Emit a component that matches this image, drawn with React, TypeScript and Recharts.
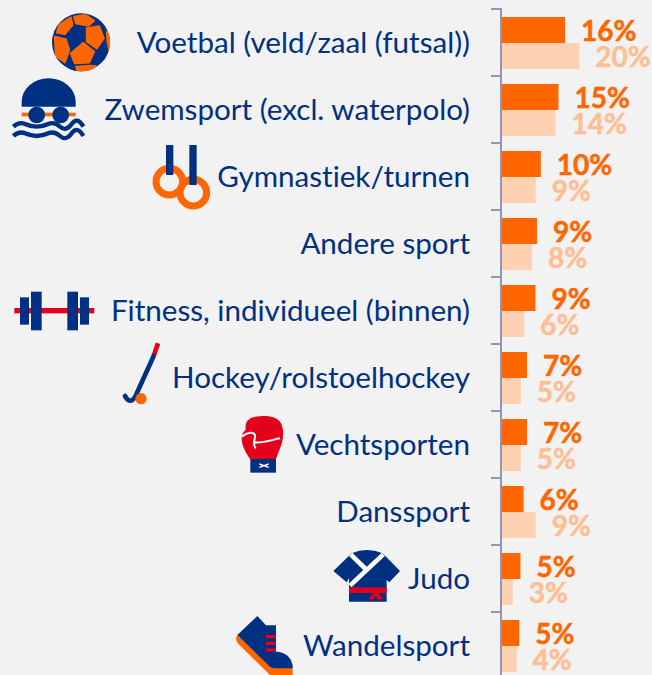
import { Bar, BarChart, LabelList, XAxis, YAxis } from "recharts";

const categories = [
  "Voetbal (veld/zaal (futsal))",
  "Zwemsport (excl. waterpolo)",
  "Gymnastiek/turnen",
  "Andere sport",
  "Fitness, individueel (binnen)",
  "Hockey/rolstoelhockey",
  "Vechtsporten",
  "Danssport",
  "Judo",
  "Wandelsport",
];
const currentShare = [16.4, 14.7, 10.1, 9.1, 8.7, 6.5, 6.5, 5.6, 4.8, 4.5];
const previousShare = [20.1, 13.9, 8.8, 7.8, 5.8, 4.9, 4.9, 8.8, 2.8, 3.8];

const BLUE = "#003082";
const ORANGE = "#FF6600";
const RED = "#E2001A";
const PALE_BAR = "#FFD1B3";
const PALE_TEXT = "#FFBE94";
const AXIS = "#8E97B3";
const FONT = "Lato, sans-serif";

const chartData = categories.map((name, i) => ({
  name,
  current: currentShare[i],
  previous: previousShare[i],
}));

const ROW_H = 67;

// icons are sketched in 3x coordinates, [origin x, origin y, row centre in page px]
function Football() {
  return (
    <>
      <clipPath id="ball">
        <circle cx={243} cy={127} r={87} />
      </clipPath>
      <circle cx={243} cy={127} r={87} fill={BLUE} />
      <g fill={ORANGE} stroke={ORANGE} strokeWidth={5} strokeLinejoin="round" clipPath="url(#ball)">
        <polygon points="222,50 256,44 283,62 266,78 227,70" />
        <polygon points="260,84 298,78 312,115 290,146 260,125" />
        <polygon points="250,128 283,155 268,188 224,190 212,160" />
        <polygon points="164,110 198,117 208,150 195,188 167,168" />
        <polygon points="170,98 177,74 213,52 218,75 195,103" />
        <polygon points="232,215 228,200 270,197 288,198 260,215" />
        <polygon points="320,95 332,125 328,155 322,125" />
      </g>
    </>
  );
}

function Swimmer() {
  return (
    <>
      <path d="M65 320 V305 A81 70 0 0 1 227 305 V320 Z" fill={BLUE} />
      <rect x={65} y={338} width={162} height={11} fill={ORANGE} />
      <circle cx={110} cy={345} r={25} fill={BLUE} />
      <circle cx={182} cy={345} r={25} fill={BLUE} />
      <g fill="none" stroke={BLUE} strokeWidth={13}>
        <path d="M40 380 Q58 364 75 372 T110 380 T145 372 T180 380 T215 372 T250 380" />
        <path d="M40 408 Q58 392 75 400 T110 408 T145 400 T180 408 T215 400 T250 408" />
      </g>
    </>
  );
}

function Rings() {
  return (
    <>
      <circle cx={508} cy={545} r={40} fill="none" stroke={ORANGE} strokeWidth={21} />
      <circle cx={580} cy={578} r={40} fill="none" stroke={ORANGE} strokeWidth={21} />
      <rect x={498} y={435} width={22} height={90} fill={BLUE} />
      <rect x={568} y={435} width={22} height={120} fill={BLUE} />
    </>
  );
}

function Barbell() {
  return (
    <>
      <rect x={43} y={114} width={240} height={16} fill={RED} />
      <rect x={60} y={82} width={27} height={82} fill={BLUE} />
      <rect x={93} y={65} width={32} height={116} fill={BLUE} />
      <rect x={202} y={65} width={32} height={116} fill={BLUE} />
      <rect x={240} y={82} width={27} height={82} fill={BLUE} />
    </>
  );
}

function HockeyStick() {
  return (
    <>
      <path d="M474 220 L461 258" stroke={RED} strokeWidth={14} fill="none" />
      <path
        d="M461 258 L408 375 Q392 408 375 378"
        stroke={BLUE}
        strokeWidth={14}
        fill="none"
        strokeLinecap="round"
      />
      <circle cx={423} cy={386} r={17} fill={ORANGE} />
    </>
  );
}

function Glove() {
  return (
    <>
      <path
        d="M75 162 C60 140 50 120 50 100 C50 85 58 78 62 75 C60 55 65 40 90 35 C120 30 150 32 165 50 C180 70 175 110 165 130 C160 145 155 155 153 162 Z"
        fill={RED}
      />
      <path
        d="M50 95 C70 80 85 80 90 90 C92 105 80 115 92 130 M90 112 C110 115 140 105 165 100"
        fill="none"
        stroke="#fff"
        strokeWidth={6}
      />
      <rect x={76} y={162} width={77} height={41} fill={BLUE} />
      <path d="M103 177 L131 187 M103 187 L131 177" stroke="#fff" strokeWidth={4} />
    </>
  );
}

function JudoGi() {
  return (
    <>
      <path
        d="M455 100 L400 153 L440 187 L447 175 V245 H560 V180 L568 187 L600 153 L548 100 Q500 80 455 100 Z"
        fill={BLUE}
      />
      <path d="M452 103 L500 150 M550 103 L450 197" stroke="#fff" strokeWidth={14} fill="none" />
      <rect x={447} y={202} width={113} height={17} fill={RED} />
      <path d="M525 215 L505 235 L518 241 L527 228 L536 241 L550 235 L532 215 Z" fill={RED} />
    </>
  );
}

function Shoe() {
  return (
    <>
      <path
        d="M112 345 L108 355 Q108 365 115 372 L210 465 H278 V440 H215 Z"
        fill={ORANGE}
      />
      <path
        d="M172 288 L112 345 L205 435 Q212 445 225 445 H278 V435 Q270 400 235 395 H228 V316 H198 Z"
        fill={BLUE}
      />
      <rect x={198} y={345} width={30} height={10} fill={RED} />
      <rect x={198} y={365} width={30} height={10} fill={RED} />
      <rect x={198} y={385} width={30} height={10} fill={RED} />
    </>
  );
}

const icons: Record<number, { draw: () => React.ReactNode; ox: number; oy: number; row: number }> = {
  0: { draw: Football, ox: 0, oy: 0, row: 42.5 },
  1: { draw: Swimmer, ox: 0, oy: 0, row: 109.5 },
  2: { draw: Rings, ox: 0, oy: 0, row: 176.5 },
  4: { draw: Barbell, ox: 0, oy: 270, row: 310.5 },
  5: { draw: HockeyStick, ox: 0, oy: 270, row: 377.5 },
  6: { draw: Glove, ox: 225, oy: 405, row: 444.5 },
  8: { draw: JudoGi, ox: 200, oy: 520, row: 578.5 },
  9: { draw: Shoe, ox: 200, oy: 520, row: 645.5 },
};

function CategoryTick({ x, y, payload, index }: any) {
  const icon = icons[index];
  const half = ROW_H / 2;
  return (
    <g>
      {icon && (
        <g transform={`translate(${icon.ox} ${y - icon.row + icon.oy}) scale(${1 / 3})`}>
          {icon.draw()}
        </g>
      )}
      <text
        x={470}
        y={y}
        dy="0.34em"
        textAnchor="end"
        fontFamily={FONT}
        fontSize={29.6}
        fill={BLUE}
        style={{ fontVariantLigatures: "none" }}
      >
        {payload.value}
      </text>
      <path
        d={`M${x - 11} ${y - half} H${x - 1} V${y + half}`}
        fill="none"
        stroke={AXIS}
        strokeWidth={2}
      />
    </g>
  );
}

const pct = (v: any) => `${Math.round(Number(v))}%`;

export default function App() {
  return (
    <div
      style={{
        position: "absolute",
        left: 0,
        top: 0,
        width: 652,
        height: 675,
        overflow: "hidden",
        background: "#F2F2F2",
      }}
    >
      <BarChart
        width={652}
        height={689}
        data={chartData}
        layout="vertical"
        margin={{ top: 9, right: 0, bottom: 10, left: 0 }}
        barGap={0}
        barCategoryGap={8}
      >
        <XAxis type="number" domain={[0, 39]} hide />
        <YAxis
          type="category"
          dataKey="name"
          width={502}
          interval={0}
          axisLine={false}
          tickLine={false}
          tickSize={0}
          tickMargin={0}
          tick={(props: any) => <CategoryTick {...props} />}
        />
        <Bar dataKey="current" name="Huidig" fill={ORANGE} isAnimationActive={false}>
          <LabelList
            dataKey="current"
            position="right"
            offset={16}
            dy={1.5}
            formatter={pct}
            fill={ORANGE}
            stroke={ORANGE}
            strokeWidth={0.5}
            fontFamily={FONT}
            fontWeight={700}
            fontSize={28}
          />
        </Bar>
        <Bar dataKey="previous" name="Vorig" fill={PALE_BAR} isAnimationActive={false}>
          <LabelList
            dataKey="previous"
            position="right"
            offset={16}
            dy={1.5}
            formatter={pct}
            fill={PALE_TEXT}
            stroke={PALE_TEXT}
            strokeWidth={0.5}
            fontFamily={FONT}
            fontWeight={700}
            fontSize={28}
          />
        </Bar>
      </BarChart>
    </div>
  );
}
